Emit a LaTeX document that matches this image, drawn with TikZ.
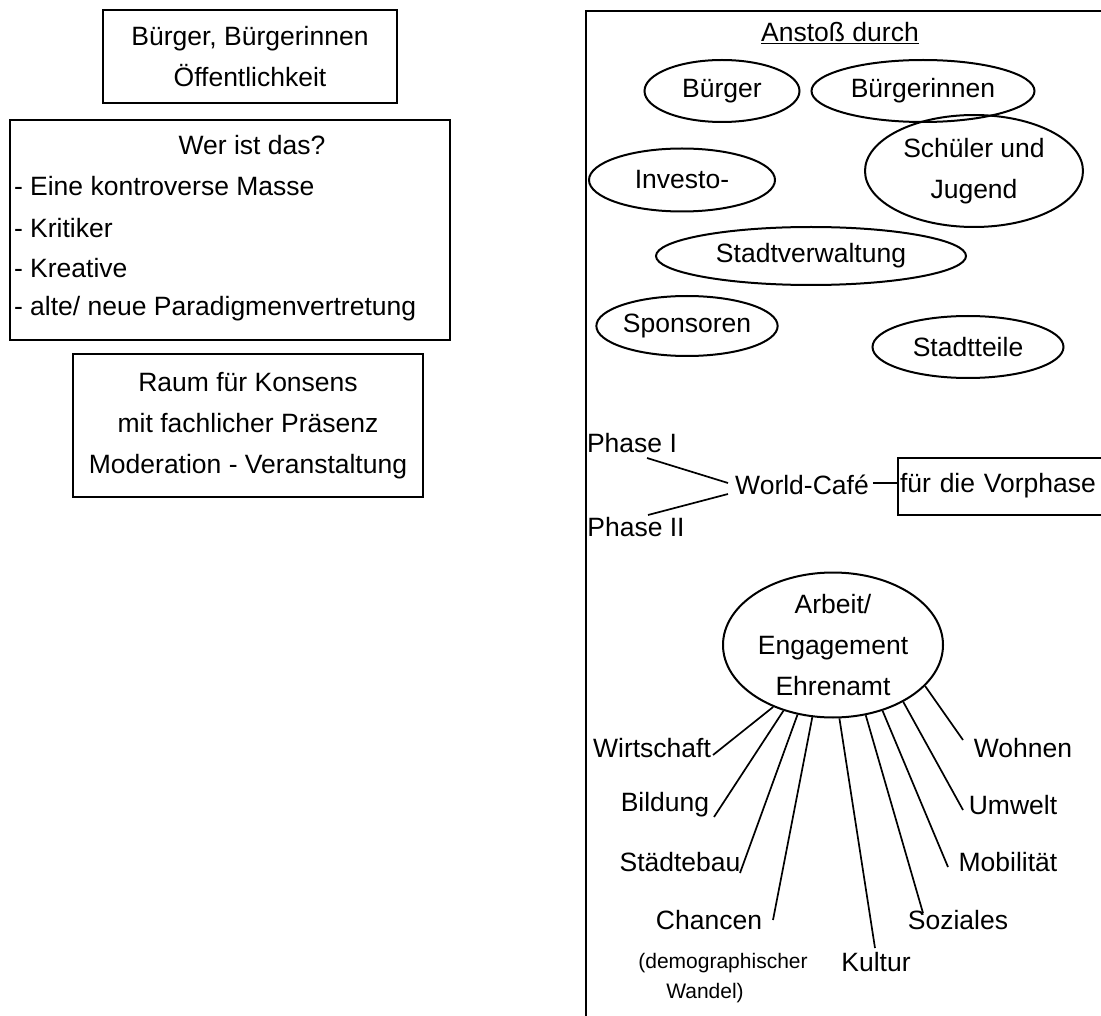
\documentclass[tikz,border=0pt]{standalone}
\usepackage{fontspec}
\setmainfont{Liberation Sans}
\usetikzlibrary{shapes.geometric}
\begin{document}
\begin{tikzpicture}[x=1pt,y=-1pt, line width=2pt,
  txt/.style={font=\fontsize{26.5}{41}\selectfont, inner sep=0pt},
  small/.style={font=\fontsize{21}{30}\selectfont, inner sep=0pt},
  box/.style={draw, txt, align=center},
  ell/.style={draw, ellipse, txt, align=center},
  spoke/.style={line width=1.7pt}]
\useasboundingbox (0,0) rectangle (1101,1016);
\clip (0,0) rectangle (1101,1016);
\fill[white] (0,0) rectangle (1101,1016);
% left column
\node[box, minimum width=294pt, minimum height=93pt] (b1) at (250,56.5) {Bürger, Bürgerinnen\\Öffentlichkeit};
\node[draw, minimum width=440pt, minimum height=220pt] (b2) at (230,230) {};
\node[txt] (w0) at (252,145) {Wer ist das?};
\node[txt, anchor=west] (w1) at (13,186) {- Eine kontroverse Masse};
\node[txt, anchor=west] (w2) at (13,228) {- Kritiker};
\node[txt, anchor=west] (w3) at (13,268) {- Kreative};
\node[txt, anchor=west] (w4) at (13,309) {- alte/ neue Paradigmenvertretung};
\node[box, minimum width=350pt, minimum height=143pt] (b3) at (248,425.5) {Raum für Konsens\\mit fachlicher Präsenz\\Moderation - Veranstaltung};
% right big frame
\node[draw, anchor=north west, minimum width=700pt, minimum height=1200pt] (frame) at (585,10) {};
\node[txt] (an) at (840,33) {\underline{Anstoß durch}};
\node[ell, minimum width=155pt, minimum height=62pt] (bu) at (722,91) {Bürger};
\node[ell, minimum width=223pt, minimum height=62pt] (bi) at (923,91) {Bürgerinnen};
\node[ell, minimum width=218pt, minimum height=112pt] (sj) at (974,171) {Schüler und\\Jugend};
\node[ell, minimum width=186pt, minimum height=63pt] (in) at (682,180) {Investo-};
\node[ell, minimum width=310pt, minimum height=58pt] (sv) at (811,256) {Stadtverwaltung};
\node[ell, minimum width=158pt, minimum height=60pt] (sp) at (687,326) {Sponsoren};
\node[ell, minimum width=191pt, minimum height=62pt] (st) at (968,347) {Stadtteile};
% phases
\node[txt] (p1) at (632,443) {Phase I};
\node[txt] (p2) at (636,527) {Phase II};
\node[txt] (wc) at (802,485) {World-Café};
\node[draw, txt, anchor=west, minimum width=240pt, minimum height=57pt, text width=236pt, align=left, inner sep=1pt] (vor) at (897,486) {für die Vorphase};
\coordinate (p1e) at (647,458);
\coordinate (p2e) at (648,515);
\coordinate (wca) at (728,483);
\coordinate (wcb) at (728,494);
\draw[spoke] (p1e) -- (wca);
\draw[spoke] (wcb) -- (p2e);
\draw[spoke] (wc.east) ++(3,-2) coordinate (wce) -- (vor.west |- wce);
% central ellipse
\node[ell, minimum width=220pt, minimum height=145pt] (arb) at (833,645) {Arbeit/\\Engagement\\Ehrenamt};
% topics
\node[txt] (t1) at (652,748) {Wirtschaft};
\node[txt] (t2) at (665,805) {Bildung};
\node[txt] (t3) at (680,862) {Städtebau};
\node[txt] (t4) at (709,920) {Chancen};
\node[small] (t4a) at (723,963) {(demographischer};
\node[small] (t4b) at (705,993) {Wandel)};
\node[txt] (t5) at (876,962) {Kultur};
\node[txt] (t6) at (958,920) {Soziales};
\node[txt] (t7) at (1008,862) {Mobilität};
\node[txt] (t8) at (1013,805) {Umwelt};
\node[txt] (t9) at (1023,748) {Wohnen};
\coordinate (e1) at (713,755);
\coordinate (e2) at (714,817);
\coordinate (e3) at (740,873);
\coordinate (e4) at (773,920);
\coordinate (e5) at (875,948);
\coordinate (e6) at (923,913);
\coordinate (e7) at (948,867);
\coordinate (e8) at (963,810);
\coordinate (e9) at (963,740);
\draw[spoke] (arb.226) -- (e1);
\draw[spoke] (arb.233.3) -- (e2);
\draw[spoke] (arb.243.4) -- (e3);
\draw[spoke] (arb.254.5) -- (e4);
\draw[spoke] (arb.275.4) -- (e5);
\draw[spoke] (arb.295.9) -- (e6);
\draw[spoke] (arb.307.8) -- (e7);
\draw[spoke] (arb.321.9) -- (e8);
\draw[spoke] (arb.336.4) -- (e9);
\end{tikzpicture}
\end{document}
